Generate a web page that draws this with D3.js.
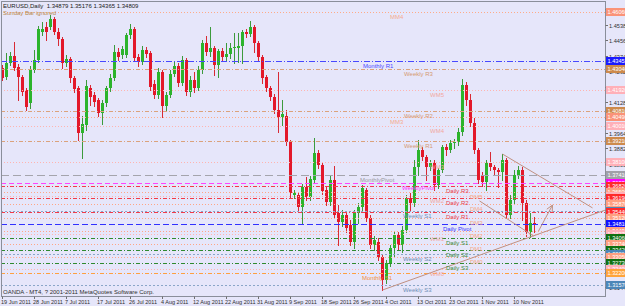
<!DOCTYPE html>
<html>
<head>
<meta charset="utf-8">
<script src="https://cdn.jsdelivr.net/npm/d3@7"></script>
<style>
  html, body { margin: 0; padding: 0; background: #e6e6fa; }
  #box { width: 625px; height: 306px; }
  text { font-family: "Liberation Sans", Arial, sans-serif; }
</style>
</head>
<body>
<div id="box"></div>
<script>
// daily bars
const opens = [
  1.4309, 1.4261, 1.4335, 1.4373, 1.4314, 1.4261, 1.4192, 1.4123, 1.4298, 1.4351,
  1.4500, 1.4527, 1.4527, 1.4569, 1.4500, 1.4463, 1.4335, 1.4357, 1.4256, 1.4203,
  1.3964, 1.4006, 1.4203, 1.4166, 1.4139, 1.4070, 1.4123, 1.4203, 1.4256, 1.4394,
  1.4378, 1.4378, 1.4484, 1.4516, 1.4367, 1.4341, 1.4404, 1.4389, 1.4224, 1.4166,
  1.4288, 1.4107, 1.4166, 1.4277, 1.4320, 1.4229, 1.4351, 1.4181, 1.4245, 1.4203,
  1.4298, 1.4442, 1.4394, 1.4415, 1.4325, 1.4399, 1.4367, 1.4383, 1.4415, 1.4415,
  1.4426, 1.4500, 1.4489, 1.4527, 1.4442, 1.4367, 1.4261, 1.4203, 1.4155, 1.4086,
  1.4049, 1.4054, 1.3916, 1.3635, 1.3635, 1.3571, 1.3677, 1.3624, 1.3714, 1.3858,
  1.3794, 1.3661, 1.3597, 1.3714, 1.3539, 1.3491, 1.3528, 1.3475, 1.3385, 1.3539,
  1.3571, 1.3661, 1.3512, 1.3369, 1.3385, 1.3305, 1.3183, 1.3273, 1.3353, 1.3422,
  1.3369, 1.3449, 1.3619, 1.3592, 1.3783, 1.3873, 1.3836, 1.3783, 1.3804, 1.3688,
  1.3767, 1.3889, 1.3873, 1.3911, 1.3916, 1.3969, 1.4219, 1.4139, 1.4017, 1.3873,
  1.3741, 1.3704, 1.3804, 1.3783, 1.3767, 1.3757, 1.3820, 1.3528, 1.3608, 1.3741,
  1.3767, 1.3592, 1.3438, 1.34879
];
const highs = [
  1.4325, 1.4389, 1.4394, 1.4447, 1.4330, 1.4272, 1.4203, 1.4320, 1.4404, 1.4532,
  1.4553, 1.4553, 1.4590, 1.4580, 1.4521, 1.4474, 1.4378, 1.4367, 1.4266, 1.4213,
  1.4054, 1.4245, 1.4219, 1.4181, 1.4150, 1.4139, 1.4213, 1.4277, 1.4431, 1.4415,
  1.4426, 1.4495, 1.4543, 1.4527, 1.4383, 1.4426, 1.4420, 1.4399, 1.4245, 1.4309,
  1.4298, 1.4181, 1.4298, 1.4341, 1.4335, 1.4373, 1.4362, 1.4266, 1.4288, 1.4320,
  1.4458, 1.4479, 1.4527, 1.4426, 1.4410, 1.4415, 1.4442, 1.4442, 1.4495, 1.4495,
  1.4511, 1.4516, 1.4558, 1.4537, 1.4452, 1.4378, 1.4272, 1.4213, 1.4171, 1.4288,
  1.4139, 1.4086, 1.3927, 1.3661, 1.3650, 1.3693, 1.3730, 1.3735, 1.3937, 1.3873,
  1.3804, 1.3682, 1.3735, 1.3789, 1.3581, 1.3555, 1.3544, 1.3502, 1.3555, 1.3592,
  1.3688, 1.3672, 1.3528, 1.3417, 1.3406, 1.3321, 1.3289, 1.3369, 1.3438, 1.3438,
  1.3470, 1.3635, 1.3645, 1.3820, 1.3927, 1.3889, 1.3847, 1.3820, 1.3820, 1.3778,
  1.3900, 1.3905, 1.3927, 1.3932, 1.3990, 1.4251, 1.4235, 1.4171, 1.4043, 1.3884,
  1.3757, 1.3820, 1.3863, 1.3794, 1.3778, 1.3852, 1.3831, 1.3635, 1.3767, 1.3789,
  1.3783, 1.3608, 1.3539, 1.35176
];
const lows = [
  1.4245, 1.4251, 1.4325, 1.4298, 1.4139, 1.4166, 1.4086, 1.4097, 1.4288, 1.4341,
  1.4484, 1.4458, 1.4516, 1.4489, 1.4431, 1.4309, 1.4320, 1.4235, 1.4181, 1.3927,
  1.3831, 1.3980, 1.4112, 1.4107, 1.4054, 1.4012, 1.4107, 1.4187, 1.4245, 1.4351,
  1.4362, 1.4367, 1.4468, 1.4351, 1.4320, 1.4330, 1.4367, 1.4192, 1.4150, 1.4150,
  1.4049, 1.4086, 1.4155, 1.4266, 1.4213, 1.4219, 1.4166, 1.4160, 1.4181, 1.4192,
  1.4282, 1.4378, 1.4373, 1.4272, 1.4261, 1.4351, 1.4351, 1.4362, 1.4335, 1.4341,
  1.4335, 1.4474, 1.4479, 1.4394, 1.4351, 1.4229, 1.4187, 1.4139, 1.4070, 1.3969,
  1.4006, 1.3900, 1.3624, 1.3619, 1.3555, 1.3486, 1.3608, 1.3608, 1.3704, 1.3778,
  1.3640, 1.3581, 1.3581, 1.3512, 1.3369, 1.3470, 1.3438, 1.3369, 1.3353, 1.3486,
  1.3555, 1.3496, 1.3353, 1.3342, 1.3289, 1.3130, 1.3167, 1.3258, 1.3305, 1.3342,
  1.3332, 1.3438, 1.3555, 1.3576, 1.3741, 1.3820, 1.3714, 1.3767, 1.3661, 1.3672,
  1.3757, 1.3847, 1.3863, 1.3884, 1.3900, 1.3953, 1.4112, 1.4001, 1.3858, 1.3698,
  1.3682, 1.3661, 1.3767, 1.3741, 1.3677, 1.3714, 1.3512, 1.3512, 1.3592, 1.3725,
  1.3502, 1.3417, 1.3412, 1.34365
];
const closes = [
  1.4256, 1.4335, 1.4373, 1.4309, 1.4261, 1.4181, 1.4102, 1.4298, 1.4351, 1.4516,
  1.4516, 1.4500, 1.4569, 1.4500, 1.4463, 1.4335, 1.4357, 1.4256, 1.4197, 1.3964,
  1.4012, 1.4213, 1.4155, 1.4128, 1.4070, 1.4123, 1.4203, 1.4256, 1.4394, 1.4367,
  1.4410, 1.4484, 1.4516, 1.4362, 1.4341, 1.4404, 1.4383, 1.4208, 1.4166, 1.4288,
  1.4107, 1.4166, 1.4277, 1.4320, 1.4229, 1.4351, 1.4181, 1.4245, 1.4203, 1.4298,
  1.4442, 1.4394, 1.4415, 1.4325, 1.4399, 1.4367, 1.4383, 1.4415, 1.4420, 1.4426,
  1.4500, 1.4489, 1.4527, 1.4442, 1.4367, 1.4256, 1.4203, 1.4155, 1.4086, 1.4049,
  1.4065, 1.3916, 1.3645, 1.3645, 1.3571, 1.3677, 1.3624, 1.3720, 1.3858, 1.3794,
  1.3656, 1.3597, 1.3714, 1.3528, 1.3491, 1.3528, 1.3459, 1.3385, 1.3539, 1.3571,
  1.3672, 1.3512, 1.3369, 1.3396, 1.3305, 1.3183, 1.3273, 1.3353, 1.3422, 1.3369,
  1.3449, 1.3619, 1.3592, 1.3783, 1.3873, 1.3836, 1.3783, 1.3804, 1.3688, 1.3767,
  1.3889, 1.3873, 1.3911, 1.3916, 1.3969, 1.4219, 1.4139, 1.4017, 1.3873, 1.3714,
  1.3704, 1.3804, 1.3783, 1.3767, 1.3757, 1.3820, 1.3528, 1.3608, 1.3741, 1.3767,
  1.3592, 1.3438, 1.3486, 1.34809
];

// time axis labels, one every 8 bars
const dateLabels = ['19 Jun 2011', '28 Jun 2011', '7 Jul 2011', '17 Jul 2011', '26 Jul 2011',
  '4 Aug 2011', '12 Aug 2011', '22 Aug 2011', '31 Aug 2011', '9 Sep 2011', '18 Sep 2011',
  '26 Sep 2011', '4 Oct 2011', '13 Oct 2011', '23 Oct 2011', '1 Nov 2011', '10 Nov 2011'];
const dateEvery = 8;

// price axis labels
const priceTicks = [1.46200, 1.45380, 1.44560, 1.43740, 1.42920, 1.42100, 1.41280, 1.40460,
  1.39640, 1.38820, 1.38000, 1.37180, 1.36360, 1.35540, 1.34720, 1.33900, 1.33080, 1.32260, 1.31440];

// pivot levels (monthly / weekly / daily and their mid points)
const levelNames = ['MM4', 'Monthly R1', 'Weekly R3', 'WM5', 'Weekly R2', 'MM3', 'WM4', 'Weekly R1',
  'WM3', 'MonthlyPivot', 'WeeklyPivot', 'Daily R3', 'DM5', 'WM2', 'Daily R2', 'DM4', 'Weekly S1',
  'Daily R1', 'DM3', 'Daily Pivot', 'DM2', 'WM1', 'Daily S1', 'DM1', 'Daily S2', 'Weekly S2', 'DM0',
  'Daily S3', 'WM0', 'Monthly S1', 'Weekly S3'];
const levelValues = [1.4606, 1.43451, 1.4304, 1.4192, 1.4081, 1.4049, 1.4001, 1.3921,
  1.3810, 1.3741, 1.3698, 1.3682, 1.3650, 1.3629, 1.3619, 1.3587, 1.3552,
  1.3544, 1.3512, 1.3481, 1.3443, 1.3427, 1.3406, 1.3374, 1.3342, 1.3321, 1.3305,
  1.3273, 1.3240, 1.3220, 1.3157];

// hand drawn objects, bar index + price
const trendStartBar = [95, 125, 119.25];
const trendStartPrice = [1.3130, 1.3852, 1.3603];
const trendEndBar = [132, 147.5, 132.75];
const trendEndPrice = [1.3412, 1.3566, 1.3417];
const trendRay = [true, false, false];
const arrowBars = [134, 137.5];
const arrowPrices = [1.3443, 1.3581];

const width = 625;
const height = 306;
const padLeft = 1;
const padRight = 605;
const padTop = 1;
const padBottom = 296;

const container = d3.select('#box');

const x = d3.scaleLinear().domain([0, 150]).range([2.5, 602.5]);
const y = d3.scaleLinear().domain([1.3130, 1.4670]).range([290, 0]);
const py = v => Math.round(y(v)) + 0.5;

function levelStyle(name) {
  if (name.startsWith('DM')) return { line: '#ffa585', box: '#ff9f80', dash: '1,2', lx: 470, lc: '#f5a888' };
  if (name.startsWith('WM')) return { line: '#ffb4b0', box: '#ffb0b8', dash: '1,2', lx: 430, lc: '#f2a8a0' };
  if (name.startsWith('MM')) return { line: '#ffab88', box: '#fa9378', dash: '1,2', lx: 390, lc: '#f5ab90' };
  if (name === 'Daily Pivot') return { line: '#3030ff', box: '#1010ff', dash: '6,3', lx: 443, lc: '#3434ff' };
  if (name.startsWith('Daily R')) return { line: '#f23a48', box: '#ff2a2a', dash: '4,2,1,2', lx: 446, lc: '#e8404e' };
  if (name.startsWith('Daily S')) return { line: '#2f8a2f', box: '#117011', dash: '4,2,1,2', lx: 446, lc: '#3a8a3a' };
  if (name === 'WeeklyPivot') return { line: '#ff44ff', box: '#ff00ff', dash: '5,3', lx: 402, lc: '#ff30ff' };
  if (name.startsWith('Weekly R')) return { line: '#dba27c', box: '#cd8a4c', dash: '4,2,1,2', lx: 404, lc: '#d59a72' };
  if (name.startsWith('Weekly S')) return { line: '#8aa6c8', box: '#4d86b8', dash: '2,2', lx: 403, lc: '#6e8eb6' };
  if (name === 'MonthlyPivot') return { line: '#a4a4ac', box: '#a0a0a8', dash: '8,4', lx: 360, lc: '#9a9aa2' };
  if (name === 'Monthly R1') return { line: '#4848ff', box: '#1a1aff', dash: '6,2,1,2', lx: 363, lc: '#4a4aff' };
  return { line: '#ffa040', box: '#ffa43a', dash: '4,2,1,2', lx: 362, lc: '#f09040' };
}

const bars = opens.map((o, i) => ({ i, o, h: highs[i], l: lows[i], c: closes[i], up: closes[i] >= o }));
const levels = levelNames.map((name, k) => ({ name, v: levelValues[k], s: levelStyle(name) }));

const svg = container.append('svg')
  .attr('width', width)
  .attr('height', height)
  .attr('viewBox', `0 0 ${width} ${height}`);

svg.append('rect')
  .attr('width', width)
  .attr('height', height)
  .attr('fill', '#e6e6fa');

svg.append('defs').append('clipPath').attr('id', 'plot')
  .append('rect')
  .attr('x', padLeft + 1)
  .attr('y', padTop + 1)
  .attr('width', padRight - padLeft - 1)
  .attr('height', padBottom - padTop - 1);

const plot = svg.append('g').attr('clip-path', 'url(#plot)');

// candles
plot.selectAll('.wick').data(bars)
  .join('line')
  .attr('class', 'wick')
  .attr('x1', d => x(d.i))
  .attr('x2', d => x(d.i))
  .attr('y1', d => Math.round(y(d.h)))
  .attr('y2', d => Math.round(y(d.l)) + 1)
  .attr('stroke', d => d.up ? '#3c9a3c' : '#d82a34')
  .attr('stroke-width', 1);

plot.selectAll('.body').data(bars)
  .join('rect')
  .attr('class', 'body')
  .attr('x', d => x(d.i) - 1.5)
  .attr('y', d => Math.round(y(Math.max(d.o, d.c))))
  .attr('width', 3)
  .attr('height', d => Math.max(1, Math.round(y(Math.min(d.o, d.c))) - Math.round(y(Math.max(d.o, d.c)))))
  .attr('fill', d => d.up ? '#2cb42c' : '#e3182a');

// pivot lines
plot.selectAll('.level').data(levels)
  .join('line')
  .attr('class', 'level')
  .attr('x1', padLeft)
  .attr('x2', padRight)
  .attr('y1', d => py(d.v))
  .attr('y2', d => py(d.v))
  .attr('stroke', d => d.s.line)
  .attr('stroke-width', 1)
  .attr('stroke-dasharray', d => d.s.dash);

// trend lines
const trends = trendStartBar.map((b, k) => {
  let b2 = trendEndBar[k];
  let p2 = trendEndPrice[k];
  if (trendRay[k]) {
    const bEnd = x.invert(padRight);
    const slope = (trendEndPrice[k] - trendStartPrice[k]) / (trendEndBar[k] - b);
    p2 = trendStartPrice[k] + slope * (bEnd - b);
    b2 = bEnd;
  }
  return { b1: b, p1: trendStartPrice[k], b2, p2 };
});

plot.selectAll('.trend').data(trends)
  .join('line')
  .attr('class', 'trend')
  .attr('x1', d => x(d.b1))
  .attr('y1', d => y(d.p1))
  .attr('x2', d => x(d.b2))
  .attr('y2', d => y(d.p2))
  .attr('stroke', '#c09080')
  .attr('stroke-width', 1);

// arrow
const ax1 = x(arrowBars[0]), ay1 = y(arrowPrices[0]);
const ax2 = x(arrowBars[1]), ay2 = y(arrowPrices[1]);
const ang = Math.atan2(ay2 - ay1, ax2 - ax1);
const head = 7;
const arrowPath = d3.path();
arrowPath.moveTo(ax1, ay1);
arrowPath.lineTo(ax2, ay2);
arrowPath.moveTo(ax2 - head * Math.cos(ang - 0.45), ay2 - head * Math.sin(ang - 0.45));
arrowPath.lineTo(ax2, ay2);
arrowPath.lineTo(ax2 - head * Math.cos(ang + 0.45), ay2 - head * Math.sin(ang + 0.45));
plot.append('path')
  .attr('d', arrowPath.toString())
  .attr('fill', 'none')
  .attr('stroke', '#c09080')
  .attr('stroke-width', 1);

// level labels
plot.selectAll('.lvl-label').data(levels)
  .join('text')
  .attr('class', 'lvl-label')
  .attr('x', d => d.s.lx)
  .attr('y', d => py(d.v) + 6)
  .attr('font-size', 6)
  .attr('fill', d => d.s.lc)
  .text(d => d.name);

// frame
svg.append('rect')
  .attr('x', padLeft + 0.5)
  .attr('y', padTop + 0.5)
  .attr('width', padRight - padLeft)
  .attr('height', padBottom - padTop)
  .attr('fill', 'none')
  .attr('stroke', '#8a8e9a')
  .attr('stroke-width', 1);

// price axis
svg.selectAll('.ptick').data(priceTicks)
  .join('line')
  .attr('class', 'ptick')
  .attr('x1', padRight + 0.5)
  .attr('x2', padRight + 3)
  .attr('y1', d => py(d))
  .attr('y2', d => py(d))
  .attr('stroke', '#707070');

svg.selectAll('.plabel').data(priceTicks)
  .join('text')
  .attr('class', 'plabel')
  .attr('x', padRight + 4)
  .attr('y', d => py(d) + 2.5)
  .attr('font-size', 5.6)
  .attr('fill', '#303030')
  .text(d => d.toFixed(5));

// price boxes for the levels
const boxes = svg.selectAll('.pbox').data(levels)
  .join('g')
  .attr('class', 'pbox')
  .attr('transform', d => `translate(${padRight + 1}, ${py(d.v) - 0.5})`);

boxes.append('rect')
  .attr('x', 0)
  .attr('y', -4)
  .attr('width', 22)
  .attr('height', 8)
  .attr('fill', d => d.s.box);

boxes.append('text')
  .attr('x', 1.5)
  .attr('y', 2.3)
  .attr('font-size', 5.6)
  .attr('fill', '#ffffff')
  .text(d => d.v.toFixed(5));

// time axis
const dateTicks = dateLabels.map((t, k) => ({ t, i: k * dateEvery }));

svg.selectAll('.dtick').data(dateTicks)
  .join('line')
  .attr('class', 'dtick')
  .attr('x1', d => x(d.i))
  .attr('x2', d => x(d.i))
  .attr('y1', padBottom + 0.5)
  .attr('y2', padBottom + 3)
  .attr('stroke', '#707070');

svg.selectAll('.dlabel').data(dateTicks)
  .join('text')
  .attr('class', 'dlabel')
  .attr('x', d => x(d.i) - 1.5)
  .attr('y', 304)
  .attr('font-size', 5.5)
  .attr('fill', '#303030')
  .text(d => d.t);

// header and footer text
const last = opens.length - 1;
svg.append('text')
  .attr('x', 3)
  .attr('y', 8)
  .attr('font-size', 6)
  .attr('fill', '#202020')
  .attr('xml:space', 'preserve')
  .text(`EURUSD,Daily  ${opens[last].toFixed(5)} ${highs[last].toFixed(5)} ${lows[last].toFixed(5)} ${closes[last].toFixed(5)}`);

svg.append('text')
  .attr('x', 3)
  .attr('y', 15)
  .attr('font-size', 6)
  .attr('fill', '#b8894a')
  .text('Sunday Bar ignored');

svg.append('text')
  .attr('x', 3)
  .attr('y', 294)
  .attr('font-size', 6)
  .attr('fill', '#303030')
  .text('OANDA - MT4, ? 2001-2011 MetaQuotes Software Corp.');
</script>
</body>
</html>
